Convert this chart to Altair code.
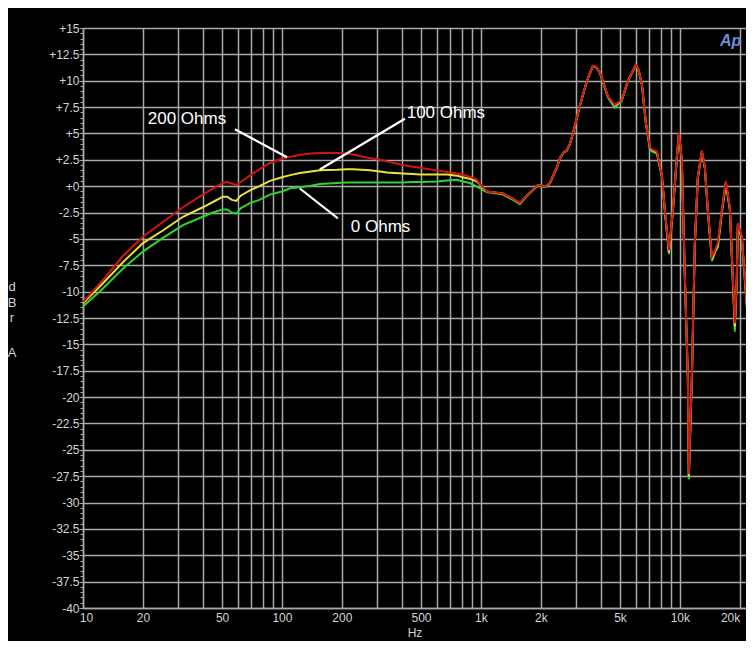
import altair as alt
import pandas as pd

# ---- data (frequency in Hz, level in dBr A) ----
freq = [10, 12.6, 15.9, 20, 25.2, 31.8, 40, 45, 50.5, 53, 56, 59, 62, 69, 77, 87, 100, 110, 123, 140,
        155, 189, 212, 227, 277, 311, 337, 405, 455, 494, 601, 675, 757, 810, 880, 955, 990, 1020, 1070,
        1290, 1450, 1570, 1720, 1930, 2100, 2220, 2410, 2500, 2600, 2700, 2800, 2900, 3140, 3410, 3650,
        3800, 3960, 4350, 4710, 5110, 5480, 6010, 6200, 6440, 6750, 7070, 7230, 7660, 8120, 8410, 8810,
        9220, 9660, 9890, 10230, 10600, 10970, 11090, 11490, 11890, 12310, 12900, 13360, 13830, 14490,
        15000, 15530, 16260, 17030, 17830, 18460, 18890, 19330, 19560, 20490, 21210, 22480, 23550]

ohms_200 = [-11.0, -8.9, -6.6, -4.8, -3.4, -2.0, -0.8, -0.2, 0.3, 0.4, 0.25, 0.1, 0.4, 1.0, 1.6, 2.2, 2.6, 2.8, 2.95, 3.1,
            3.15, 3.15, 3.1, 3.0, 2.65, 2.5, 2.35, 2.0, 1.85, 1.75, 1.5, 1.35, 1.2, 1.1, 0.9, 0.6, 0.2, -0.05, -0.5,
            -0.7, -1.2, -1.6, -0.8, 0.1, -0.05, 0.3, 1.8, 2.7, 3.2, 3.4, 4.0, 5.0, 7.6, 10.0, 11.4,
            11.3, 10.8, 8.5, 7.7, 8.2, 10.0, 11.5, 11.0, 9.7, 6.0, 3.7, 3.5, 3.3, 1.0, -2.3, -6.1,
            -2.3, 2.8, 5.1, 2.5, -8.6, -18.0, -27.3, -18.0, -5.4, 0.9, 3.4, 1.8, -2.3, -6.7,
            -6.1, -5.3, -2.3, 0.5, -2.0, -8.6, -13.0, -8.6, -3.5, -4.8, -8.6, -14.9, -19.6]

ohms_100 = [-11.1, -9.2, -7.2, -5.4, -4.2, -2.9, -2.0, -1.5, -1.0, -1.0, -1.3, -1.4, -0.9, -0.4, 0.0, 0.5, 0.85, 1.05, 1.25, 1.4,
            1.5, 1.55, 1.6, 1.6, 1.5, 1.4, 1.3, 1.2, 1.15, 1.1, 1.1, 1.1, 1.0, 0.85, 0.7, 0.45, 0.15, -0.1, -0.5,
            -0.7, -1.2, -1.6, -0.8, 0.1, -0.05, 0.3, 1.8, 2.7, 3.2, 3.4, 4.0, 5.0, 7.6, 10.0, 11.4,
            11.3, 10.8, 8.5, 7.65, 8.2, 10.0, 11.5, 11.0, 9.7, 6.0, 3.65, 3.45, 3.25, 1.0, -2.3, -6.25,
            -2.35, 2.75, 5.0, 2.45, -8.7, -18.1, -27.5, -18.1, -5.5, 0.85, 3.3, 1.75, -2.35, -6.9,
            -6.2, -5.5, -2.4, 0.35, -2.1, -8.8, -13.3, -8.8, -3.6, -4.9, -8.7, -15.0, -19.7]

ohms_0 = [-11.4, -9.7, -7.8, -6.2, -4.9, -3.7, -2.9, -2.5, -2.2, -2.2, -2.5, -2.6, -2.1, -1.6, -1.3, -0.8, -0.5, -0.2, -0.1, 0.05,
          0.2, 0.3, 0.35, 0.35, 0.35, 0.35, 0.35, 0.35, 0.4, 0.4, 0.45, 0.55, 0.6, 0.45, 0.3, -0.05, -0.2, -0.35, -0.55,
          -0.8, -1.3, -1.7, -0.85, 0.05, -0.1, 0.25, 1.75, 2.65, 3.15, 3.35, 3.95, 4.95, 7.55, 9.95, 11.35,
          11.25, 10.75, 8.4, 7.45, 8.1, 9.95, 11.45, 10.95, 9.65, 5.9, 3.5, 3.3, 3.1, 0.9, -2.4, -6.45,
          -2.45, 2.65, 4.9, 2.35, -8.8, -18.3, -27.8, -18.3, -5.6, 0.75, 3.2, 1.65, -2.45, -7.1,
          -6.3, -5.8, -2.5, 0.2, -2.2, -9.0, -13.8, -9.0, -3.8, -5.0, -8.9, -15.2, -19.9]

series_names = ["0 Ohms", "100 Ohms", "200 Ohms"]
series_colors = ["#2fd22f", "#e8e23c", "#d21414"]

# annotation labels and leader lines (data coordinates)
label_text = ["200 Ohms", "100 Ohms", "0 Ohms"]
label_freq = [33.3, 667, 313]
label_db = [6.35, 6.95, -3.86]
leader_f1 = [58, 415, 191]
leader_d1 = [5.4, 6.4, -3.06]
leader_f2 = [106, 155, 123]
leader_d2 = [2.75, 1.58, -0.22]

# vertical y-axis title, one letter per line ("dBr A")
ytitle_letters = ["d", "B", "r", "A"]

x_grid = [10, 20, 30, 40, 50, 60, 70, 80, 90, 100, 200, 300, 400, 500, 600, 700, 800, 900,
          1000, 2000, 3000, 4000, 5000, 6000, 7000, 8000, 9000, 10000, 20000]
y_ticks = [i * 0.5 for i in range(-80, 31)]

# ---- tables ----
rows = []
for name, vals in zip(series_names, [ohms_0, ohms_100, ohms_200]):
    for f, v in zip(freq, vals):
        rows.append({"Hz": f, "dB": v, "series": name})
df = pd.DataFrame(rows)
labels_df = pd.DataFrame({"text": label_text, "Hz": label_freq, "dB": label_db})
leaders_df = pd.DataFrame({"f1": leader_f1, "d1": leader_d1, "f2": leader_f2, "d2": leader_d2})
logo_df = pd.DataFrame({"text": ["Ap"], "Hz": [18000], "dB": [13.75]})

GRID = "#a8a8a8"
LABEL = "#d4d4d4"
FONT = "Liberation Sans"

major = "abs(datum.value % 2.5) < 0.001"

x_scale = alt.Scale(type="log", domain=[10, 21500], nice=False)
y_scale = alt.Scale(domain=[-40, 15], nice=False, zero=False)

x_axis = alt.Axis(
    values=x_grid,
    labelExpr="indexof([10,20,50,100,200,500], datum.value) >= 0 ? datum.value + '' : "
              "(indexof([1000,2000,5000,10000,20000], datum.value) >= 0 ? (datum.value/1000) + 'k' : '')",
    grid=True, gridColor=GRID, gridWidth=1.5,
    ticks=False, domainColor=GRID, domainWidth=1.5,
    labelColor=LABEL, labelFont=FONT, labelFontSize=12, labelPadding=4,
    labelFlush=True, labelFlushOffset=-3, labelOverlap=False,
    labelAlign={"condition": {"test": "datum.value == 20000", "value": "right"}, "value": "center"},
    title="Hz", titleColor=LABEL, titleFont=FONT, titleFontSize=12, titleFontWeight="normal",
    titleBaseline="top", titleY=19,
)
y_axis = alt.Axis(
    values=y_ticks,
    labelExpr=f"{major} ? (datum.value >= 0 ? '+' : '') + datum.value : ''",
    grid=True, gridColor=GRID, gridWidth=1.5,
    gridOpacity={"condition": {"test": major, "value": 1}, "value": 0},
    ticks=True, tickColor=GRID, tickWidth=1,
    tickSize={"condition": {"test": major, "value": 4}, "value": 3},
    domainColor=GRID, domainWidth=1.5,
    labelColor=LABEL, labelFont=FONT, labelFontSize=12, labelPadding=0, labelOverlap=False,
    title=None,
)


def xenc(field):
    return alt.X(field, type="quantitative", scale=x_scale, axis=x_axis)


def yenc(field):
    return alt.Y(field, type="quantitative", scale=y_scale, axis=y_axis)


base = alt.Chart(df)
layers = []
for name, col in zip(series_names, series_colors):
    layers.append(
        base.transform_filter(alt.datum.series == name)
        .mark_line(color=col, strokeWidth=2, clip=True)
        .encode(x=xenc("Hz"), y=yenc("dB"))
    )

leaders = alt.Chart(leaders_df).mark_rule(color="white", strokeWidth=2.2).encode(
    x=xenc("f1"), x2="f2:Q", y=yenc("d1"), y2="d2:Q",
)
texts = alt.Chart(labels_df).mark_text(color="white", font=FONT, fontSize=17).encode(
    x=xenc("Hz"), y=yenc("dB"), text="text:N"
)
logo = alt.Chart(logo_df).mark_text(color="#6d8fd6", font=FONT, fontSize=16,
                                    fontStyle="italic", fontWeight="bold").encode(
    x=xenc("Hz"), y=yenc("dB"), text="text:N"
)

# y-axis title letters stacked vertically, placed left of the axis labels
title_offsets = [259, 274.5, 290, 325]
ytitle_layers = [
    alt.Chart(pd.DataFrame({"t": [ch]})).mark_text(
        color=LABEL, font=FONT, fontSize=13, align="center", baseline="middle"
    ).encode(text="t:N", x=alt.value(-71), y=alt.value(off))
    for ch, off in zip(ytitle_letters, title_offsets)
]

chart = (
    alt.layer(*layers, leaders, texts, logo, *ytitle_layers)
    .properties(
        width=663, height=580,
        autosize=alt.AutoSizeParams(type="none"),
        padding={"left": 75, "top": 20, "right": 0, "bottom": 33},
    )
    .configure(background="black")
    .configure_view(stroke=None)
)

chart.save("out.html", embed_options={"renderer": "svg", "actions": False})
